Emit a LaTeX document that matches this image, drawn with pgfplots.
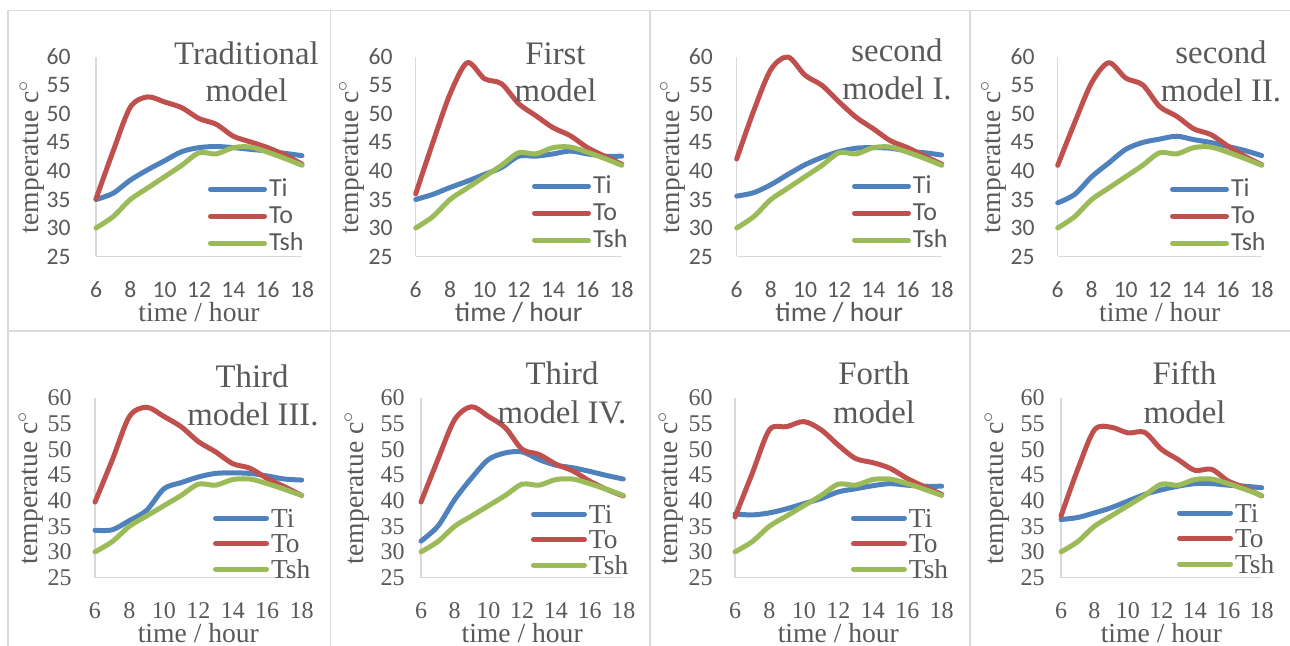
\documentclass[border=0pt]{standalone}
\usepackage{pgfplots}
\usepackage{pgfplotstable}
\pgfplotsset{compat=1.18}
\usepackage{fontspec}
\setmainfont{Liberation Serif}
\newfontfamily\calib{Carlito}

\definecolor{cTi}{HTML}{4F81BD}
\definecolor{cTo}{HTML}{C0504D}
\definecolor{cTsh}{HTML}{9BBB59}
\definecolor{txtgray}{HTML}{595959}
\definecolor{axisgray}{HTML}{D9D9D9}
\definecolor{framegray}{HTML}{DADADA}

\newcommand\fTick{\calib\fontsize{11.8}{12}\selectfont}
\newcommand\fTickS{\fontsize{12}{12}\selectfont}
\newcommand\fLab{\fontsize{13.8}{14}\selectfont}
\newcommand\fLabS{\calib\fontsize{13.8}{14}\selectfont}
\newcommand\fTitle{\fontsize{16.4}{18.5}\selectfont}
\newcommand\fLeg{\calib\fontsize{13}{13}\selectfont}
\newcommand\fLegS{\fontsize{13.7}{13.7}\selectfont}

% shared shading temperature
\pgfplotstableread{
h Tsh
6 30
7 32
8 35
9 37
10 39
11 41
12 43.2
13 43
14 44.1
15 44.2
16 43.3
17 42.2
18 41
}\tsh

% traditional model
\pgfplotstableread{
h Ti To
6 35 35.1
7 36.1 43.5
8 38.4 51.2
9 40.2 53
10 41.8 52.1
11 43.4 51.1
12 44.1 49.2
13 44.3 48.2
14 44.1 46.1
15 43.8 45.1
16 43.5 44.1
17 43.1 42.8
18 42.7 41.2
}\tA

% first model
\pgfplotstableread{
h Ti To
6 35 36
7 35.9 45
8 37.1 53.5
9 38.2 59
10 39.4 56.2
11 40.6 55.3
12 42.6 51.8
13 42.6 49.7
14 43 47.6
15 43.5 46.2
16 43 44.1
17 42.6 42.6
18 42.6 41.2
}\tB

% second model I.
\pgfplotstableread{
h Ti To
6 35.6 42.1
7 36.2 50.6
8 37.6 57.8
9 39.4 60
10 41.1 56.8
11 42.4 55
12 43.4 52.1
13 44 49.4
14 44.1 47.4
15 44 45.3
16 43.5 44.1
17 43.2 42.6
18 42.8 41.2
}\tC

% second model II.
\pgfplotstableread{
h Ti To
6 34.4 41
7 35.9 48.5
8 39 55.5
9 41.4 59
10 43.8 56.3
11 45 55.1
12 45.6 51.3
13 46.1 49.6
14 45.5 47.4
15 45 46.4
16 44.3 44.4
17 43.6 42.6
18 42.7 41.1
}\tD

% third model III.
\pgfplotstableread{
h Ti To
6 34.2 39.7
7 34.3 47.9
8 36.1 56.4
9 38.1 58.2
10 42.3 56.4
11 43.5 54.4
12 44.6 51.5
13 45.3 49.5
14 45.4 47.2
15 45.3 46.3
16 44.8 44.3
17 44.2 42.7
18 44 41
}\tE

% third model IV.
\pgfplotstableread{
h Ti To
6 32.1 39.7
7 35 48
8 40.2 55.8
9 44.4 58.3
10 48 56.4
11 49.3 54.2
12 49.5 50
13 48 49
14 46.9 47.1
15 46.4 45.8
16 45.7 43.8
17 44.9 42.2
18 44.2 40.9
}\tF

% forth model
\pgfplotstableread{
h Ti To
6 37.4 36.8
7 37.2 45.3
8 37.6 53.8
9 38.4 54.4
10 39.4 55.4
11 40.4 53.8
12 41.7 50.8
13 42.3 48.2
14 42.9 47.4
15 43.3 46.3
16 43 44.3
17 42.8 42.7
18 42.8 41.2
}\tG

% fifth model
\pgfplotstableread{
h Ti To
6 36.3 37
7 36.7 46.1
8 37.6 53.8
9 38.6 54.3
10 39.9 53.2
11 41.2 53.3
12 42.1 50
13 42.8 48
14 43.3 45.9
15 43.3 46.1
16 43 43.8
17 42.8 42.5
18 42.5 40.9
}\tH

\pgfplotsset{
  panel/.style={
    scale only axis, anchor=south west, clip=false,
    xmin=6, xmax=18, ymin=25, ymax=60,
    xtick={6,8,...,18}, ytick={25,30,...,60},
    axis x line*=bottom, axis y line*=left,
    axis line style={draw=axisgray, line width=0.75pt, -},
    major tick length=0pt,
    /pgf/number format/assume math mode=true,
    tick label style={text=txtgray, inner sep=0pt},
    xticklabel style={anchor=center, yshift=-16.5pt},
    xlabel={time / hour}, ylabel={temperatue c$^\circ$},
    every axis x label/.style={at={(axis description cs:0.5,0)}, anchor=center, yshift=-28pt, text=txtgray, font=\fLab},
    every axis y label/.style={at={(axis description cs:0,0.5)}, anchor=center, xshift=-32pt, rotate=90, text=txtgray, font=\fLab},
    every axis plot/.append style={smooth, line width=2.5pt, line cap=round, line join=round, no markers},
    legend style={draw=none, fill=none, inner sep=0pt, outer sep=0pt, anchor=north west,
      row sep=0pt, column sep=1pt, text=txtgray},
    legend cell align=left,
  },
  row1/.style={height=99.75pt, tick label style={font=\fTick},
    legend style={font=\fLeg, nodes={inner sep=0pt, text height=10.5pt, text depth=3pt}},
    legend image code/.code={\draw[##1] (1.25pt,0pt) -- (28.25pt,0pt);}},
  row2/.style={height=89.75pt, tick label style={font=\fTickS},
    legend style={font=\fLegS, nodes={inner sep=0pt, text height=10.9pt, text depth=1.85pt}},
    legend image code/.code={\draw[##1] (1.25pt,0pt) -- (26.75pt,0pt);}},
  ygap/.style={yticklabel style={anchor=east, xshift=-#1pt}},
}

\newcommand\curves[1]{%
  \addplot[cTi] table[x=h, y=Ti] {#1};
  \addplot[cTo] table[x=h, y=To] {#1};
  \addplot[cTsh] table[x=h, y=Tsh] {\tsh};
  \legend{Ti,To,Tsh}}

\begin{document}
\begin{tikzpicture}[x=0.5pt, y=-0.5pt]
\path[use as bounding box] (0,0) rectangle (1290,646);

% table frame
\begin{scope}[draw=framegray, line width=0.75pt]
\draw (8,10.5) -- (1290,10.5);
\draw (8,331) -- (1290,331);
\draw (8,10.5) -- (8,646);
\draw (330.5,10.5) -- (330.5,646);
\draw (650,10.5) -- (650,646);
\draw (970,10.5) -- (970,646);
\end{scope}

% row 1
\begin{axis}[panel, row1, ygap=12.5, at={(48pt,-128.25pt)}, width=103pt,
  legend style={at={(0.5437,0.405)}}]
\curves{\tA}
\end{axis}
\begin{axis}[panel, row1, ygap=11.4, at={(207.85pt,-128.25pt)}, width=103pt,
  legend style={at={(0.5646,0.42)}}, xlabel style={font=\fLabS}]
\curves{\tB}
\end{axis}
\begin{axis}[panel, row1, ygap=11.8, at={(368.35pt,-128.25pt)}, width=102.5pt,
  legend style={at={(0.5624,0.42)}}, xlabel style={font=\fLabS}]
\curves{\tC}
\end{axis}
\begin{axis}[panel, row1, ygap=11.4, at={(528.85pt,-128.25pt)}, width=102pt,
  legend style={at={(0.5505,0.405)}}]
\curves{\tD}
\end{axis}

% row 2
\begin{axis}[panel, row2, ygap=11.5, at={(47.5pt,-288.75pt)}, width=103.35pt,
  legend style={at={(0.571,0.402)}}]
\curves{\tE}
\end{axis}
\begin{axis}[panel, row2, ygap=8, at={(210.5pt,-288.75pt)}, width=101.15pt,
  legend style={at={(0.5437,0.424)}}]
\curves{\tF}
\end{axis}
\begin{axis}[panel, row2, ygap=11, at={(367.5pt,-288.75pt)}, width=103.35pt,
  legend style={at={(0.561,0.402)}}]
\curves{\tG}
\end{axis}
\begin{axis}[panel, row2, ygap=8, at={(530.5pt,-288.75pt)}, width=100.35pt,
  legend style={at={(0.578,0.43)}}]
\curves{\tH}
\end{axis}

% titles
\begin{scope}[every node/.style={anchor=base, text=txtgray, font=\fTitle, inner sep=0pt}]
\node at (246.5,65) {Traditional};
\node at (246.5,102) {model};
\node at (555.5,65) {First};
\node at (555.5,102) {model};
\node at (897,62) {second};
\node at (897,100) {model I.};
\node at (1221,64) {second};
\node at (1221,102) {model II.};
\node at (252,387) {Third};
\node at (253,426) {model III.};
\node at (562,385) {Third};
\node at (562,423) {model IV.};
\node at (874,385) {Forth};
\node at (874,423) {model};
\node at (1184.5,385) {Fifth};
\node at (1184.5,423) {model};
\end{scope}
\end{tikzpicture}
\end{document}
